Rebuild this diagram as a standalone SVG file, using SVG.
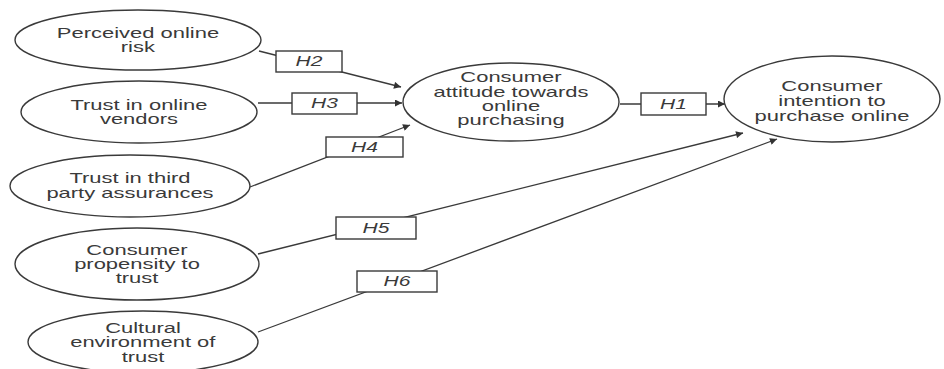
<svg xmlns="http://www.w3.org/2000/svg" width="944" height="369" viewBox="0 0 944 369">
<defs>
<marker id="arr" viewBox="0 0 10 10" refX="10" refY="5" markerWidth="9" markerHeight="7" markerUnits="userSpaceOnUse" orient="auto">
<path d="M0,0 L10,5 L0,10 z" fill="#333"/>
</marker>
</defs>
<style>
.n{fill:#fff;stroke:#3a3a3a;stroke-width:1.4}
.b{fill:#fff;stroke:#3a3a3a;stroke-width:1.4}
.c{stroke:#3a3a3a;stroke-width:1.3;fill:none}
.a{marker-end:url(#arr)}
text{font-family:"Liberation Sans",Arial,sans-serif;font-size:14px;fill:#3a3a3a;text-anchor:middle;transform-box:fill-box;transform-origin:center;transform:scaleX(1.57)}
.h{font-style:italic;transform:scaleX(1.5)}
</style>
<rect width="944" height="369" fill="#fff"/>
<g id="connectors">
<line class="c a" x1="259" y1="51" x2="401" y2="87"/>
<line class="c a" x1="258" y1="103" x2="402" y2="103"/>
<line class="c a" x1="250" y1="187" x2="410" y2="125"/>
<line class="c a" x1="258" y1="254" x2="743" y2="133"/>
<line class="c a" x1="258" y1="332" x2="777" y2="139"/>
<line class="c a" x1="620" y1="104" x2="725" y2="104"/>
</g>
<g id="n_risk"><ellipse class="n" cx="138" cy="40" rx="123" ry="30"/><text x="138" y="38">Perceived online</text><text x="138" y="52">risk</text></g>
<g id="n_vendors"><ellipse class="n" cx="139" cy="112" rx="118" ry="31"/><text x="139" y="110">Trust in online</text><text x="139" y="124">vendors</text></g>
<g id="n_third"><ellipse class="n" cx="130" cy="186" rx="120" ry="31"/><text x="130" y="183">Trust in third</text><text x="130" y="198">party assurances</text></g>
<g id="n_propensity"><ellipse class="n" cx="137" cy="264" rx="122" ry="36"/><text x="137" y="255">Consumer</text><text x="137" y="269">propensity to</text><text x="137" y="283">trust</text></g>
<g id="n_cultural"><ellipse class="n" cx="143" cy="342" rx="115" ry="31"/><text x="143" y="333">Cultural</text><text x="143" y="347">environment of</text><text x="143" y="362">trust</text></g>
<g id="n_attitude"><ellipse class="n" cx="511" cy="102" rx="108" ry="39"/><text x="511" y="82">Consumer</text><text x="511" y="97">attitude towards</text><text x="511" y="111">online</text><text x="511" y="125">purchasing</text></g>
<g id="n_intention"><ellipse class="n" cx="832" cy="99" rx="108" ry="43"/><text x="832" y="91">Consumer</text><text x="832" y="106">intention to</text><text x="832" y="121">purchase online</text></g>
<g id="h1"><rect class="b" x="641" y="93" width="65" height="22"/><text class="h" x="673.5" y="109">H1</text></g>
<g id="h2"><rect class="b" x="276" y="51" width="66" height="21"/><text class="h" x="309" y="66">H2</text></g>
<g id="h3"><rect class="b" x="292" y="93" width="65" height="21"/><text class="h" x="324.5" y="108">H3</text></g>
<g id="h4"><rect class="b" x="326" y="137" width="77" height="20"/><text class="h" x="364.5" y="152">H4</text></g>
<g id="h5"><rect class="b" x="336" y="217" width="80" height="22"/><text class="h" x="376" y="233">H5</text></g>
<g id="h6"><rect class="b" x="357" y="271" width="80" height="21"/><text class="h" x="397" y="286">H6</text></g>
</svg>
